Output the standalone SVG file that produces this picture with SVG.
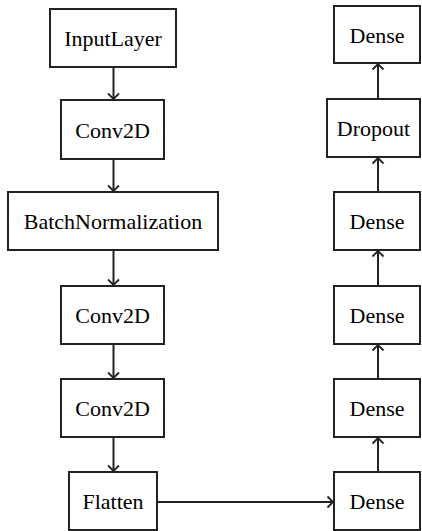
<svg xmlns="http://www.w3.org/2000/svg" width="422" height="531" viewBox="0 0 422 531">
<style>
.box{fill:#fff;stroke:#222;stroke-width:2}
.lbl{font-family:"Liberation Serif","Times New Roman",serif;font-size:22px;fill:#000;text-anchor:middle}
.edge{fill:none;stroke:#222;stroke-width:2}
</style>
<defs>
<marker id="arr" markerUnits="userSpaceOnUse" markerWidth="14" markerHeight="14" refX="7" refY="7" orient="auto" viewBox="0 0 14 14">
<path d="M1.5,1.5 L7,7 L1.5,12.5" fill="none" stroke="#222" stroke-width="1.8"/>
</marker>
</defs>
<rect width="422" height="531" fill="#fff"/>
<g id="connectors">
<line class="edge" x1="113.5" y1="67" x2="113.5" y2="99" marker-end="url(#arr)"/>
<line class="edge" x1="113.5" y1="159" x2="113.5" y2="191" marker-end="url(#arr)"/>
<line class="edge" x1="113.5" y1="250" x2="113.5" y2="285" marker-end="url(#arr)"/>
<line class="edge" x1="113.5" y1="344" x2="113.5" y2="378" marker-end="url(#arr)"/>
<line class="edge" x1="113.5" y1="437" x2="113.5" y2="471" marker-end="url(#arr)"/>
<line class="edge" x1="157" y1="502" x2="333" y2="502" marker-end="url(#arr)"/>
<line class="edge" x1="378" y1="472" x2="378" y2="438" marker-end="url(#arr)"/>
<line class="edge" x1="378" y1="379" x2="378" y2="345" marker-end="url(#arr)"/>
<line class="edge" x1="378" y1="286" x2="378" y2="251" marker-end="url(#arr)"/>
<line class="edge" x1="378" y1="192" x2="378" y2="158" marker-end="url(#arr)"/>
<line class="edge" x1="378" y1="99" x2="378" y2="64" marker-end="url(#arr)"/>
</g>
<g id="input"><rect class="box" x="50" y="9" width="126" height="58"/><text class="lbl" x="113" y="46">InputLayer</text></g>
<g id="conv1"><rect class="box" x="61" y="100" width="103" height="59"/><text class="lbl" x="112.5" y="137.5">Conv2D</text></g>
<g id="bn"><rect class="box" x="8" y="192" width="210" height="58"/><text class="lbl" x="113" y="229">BatchNormalization</text></g>
<g id="conv2"><rect class="box" x="61" y="286" width="103" height="58"/><text class="lbl" x="112.5" y="323">Conv2D</text></g>
<g id="conv3"><rect class="box" x="61" y="379" width="103" height="58"/><text class="lbl" x="112.5" y="416">Conv2D</text></g>
<g id="flatten"><rect class="box" x="69" y="472" width="88" height="58"/><text class="lbl" x="113" y="509">Flatten</text></g>
<g id="dense1"><rect class="box" x="334" y="472" width="86" height="58"/><text class="lbl" x="377" y="509">Dense</text></g>
<g id="dense2"><rect class="box" x="334" y="379" width="86" height="58"/><text class="lbl" x="377" y="416">Dense</text></g>
<g id="dense3"><rect class="box" x="334" y="286" width="86" height="58"/><text class="lbl" x="377" y="323">Dense</text></g>
<g id="dense4"><rect class="box" x="334" y="192" width="86" height="58"/><text class="lbl" x="377" y="229">Dense</text></g>
<g id="dropout"><rect class="box" x="327" y="99" width="93" height="58"/><text class="lbl" x="373.5" y="136">Dropout</text></g>
<g id="dense5"><rect class="box" x="334" y="6" width="86" height="57"/><text class="lbl" x="377" y="42.5">Dense</text></g>
</svg>
